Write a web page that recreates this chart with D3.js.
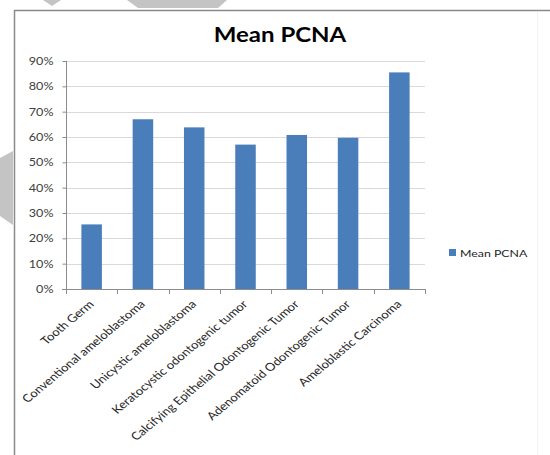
<!DOCTYPE html>
<html>
<head>
<meta charset="utf-8">
<script src="https://cdn.jsdelivr.net/npm/d3@7"></script>
<style>
  html, body { margin: 0; padding: 0; background: #fff; }
  svg { display: block; }
</style>
</head>
<body>
<svg id="chart" width="550" height="455"></svg>
<script>
// Mean PCNA labelling index per lesion type
const categories = [
  "Tooth Germ",
  "Conventional ameloblastoma",
  "Unicystic ameloblastoma",
  "Keratocystic odontogenic tumor",
  "Calcifying Epithelial Odontogenic Tumor",
  "Adenomatoid Odontogenic Tumor",
  "Ameloblastic Carcinoma"
];
const meanPCNA = [0.255, 0.67, 0.638, 0.57, 0.608, 0.597, 0.855];
const yTicks = [0, 0.1, 0.2, 0.3, 0.4, 0.5, 0.6, 0.7, 0.8, 0.9];
const seriesName = "Mean PCNA";

const svg = d3.select("#chart");
const font = "Lato, 'Open Sans', sans-serif";
const sx = 1.2; // text is drawn slightly widened

// decorative grey shapes behind the frame
const deco = [
  [[43, 0], [61, 0], [52, 6]],
  [[127, 0], [227, 0], [218, 8], [138, 8]],
  [[0, 158], [13, 151], [13, 225], [0, 216]]
];
svg.selectAll("polygon.deco").data(deco).join("polygon")
  .attr("class", "deco")
  .attr("points", d => d.map(p => p.join(",")).join(" "))
  .attr("fill", "#c4c4c4");

// chart frame
svg.append("path")
  .attr("d", "M14.5,455 V10.5 H550")
  .attr("fill", "none")
  .attr("stroke", "#8a8a8a")
  .attr("stroke-width", 1.5);
svg.append("line")
  .attr("x1", 537.5).attr("x2", 537.5).attr("y1", 12).attr("y2", 455)
  .attr("stroke", "#f2f2f2");

const plot = { left: 66, right: 425, top: 61, bottom: 289 };

const x = d3.scaleBand()
  .domain(categories)
  .range([plot.left, plot.right])
  .paddingInner(0.6)
  .paddingOuter(0.3);
const xCell = d3.scaleBand()
  .domain(categories)
  .range([plot.left, plot.right])
  .padding(0);
const y = d3.scaleLinear()
  .domain([0, 0.9])
  .range([plot.bottom, plot.top]);

// horizontal gridlines
svg.append("g")
  .selectAll("line")
  .data(yTicks.filter(t => t > 0))
  .join("line")
  .attr("x1", plot.left).attr("x2", plot.right)
  .attr("y1", d => Math.round(y(d)) + 0.5)
  .attr("y2", d => Math.round(y(d)) + 0.5)
  .attr("stroke", "#d9d9d9")
  .attr("stroke-width", 1);

// bars
svg.append("g")
  .selectAll("rect")
  .data(categories.map((c, i) => ({ c, v: meanPCNA[i] })))
  .join("rect")
  .attr("x", d => x(d.c))
  .attr("width", x.bandwidth())
  .attr("y", d => y(d.v))
  .attr("height", d => y(0) - y(d.v))
  .attr("fill", "#4a7ebb");

// y axis
const yAxis = svg.append("g")
  .attr("transform", `translate(${plot.left + 0.5},0)`)
  .call(d3.axisLeft(y).tickValues(yTicks).tickFormat(d3.format(".0%")).tickSize(4).tickPadding(0));
yAxis.select(".domain").attr("stroke", "#8c8c8c").attr("d", `M0,${y(0.9)}V${y(0)}`);
yAxis.selectAll(".tick line").attr("stroke", "#8c8c8c");
yAxis.selectAll(".tick text")
  .attr("x", 0)
  .attr("transform", `translate(-13,0) scale(${sx},1)`)
  .attr("font-family", font)
  .attr("font-size", 10.5)
  .attr("fill", "#404040");

// x axis baseline and category boundary ticks
const xAxisG = svg.append("g");
xAxisG.append("line")
  .attr("x1", plot.left - 4).attr("x2", plot.right)
  .attr("y1", plot.bottom + 0.5).attr("y2", plot.bottom + 0.5)
  .attr("stroke", "#8c8c8c");
const bounds = categories.map(c => xCell(c)).concat([xCell(categories[categories.length - 1]) + xCell.bandwidth()]);
xAxisG.selectAll("line.tk").data(bounds).join("line")
  .attr("class", "tk")
  .attr("x1", d => Math.round(d) + 0.5).attr("x2", d => Math.round(d) + 0.5)
  .attr("y1", plot.bottom).attr("y2", plot.bottom + 5)
  .attr("stroke", "#8c8c8c");

// rotated category labels
xAxisG.selectAll("text.cat").data(categories).join("text")
  .attr("class", "cat")
  .attr("transform", d => `translate(${x(d) + x.bandwidth() / 2 + 3},${plot.bottom + 16}) scale(${sx},1) rotate(-45)`)
  .attr("text-anchor", "end")
  .attr("font-family", font)
  .attr("font-size", 11)
  .attr("fill", "#262626")
  .text(d => d);

// title
svg.append("text")
  .attr("transform", `translate(280,42) scale(${sx},1)`)
  .attr("text-anchor", "middle")
  .attr("font-family", font)
  .attr("font-weight", "bold")
  .attr("font-size", 20)
  .attr("fill", "#000")
  .text(seriesName);

// legend
const lg = svg.append("g").attr("transform", "translate(449,249)");
lg.append("rect").attr("width", 7).attr("height", 7).attr("fill", "#4a7ebb");
lg.append("text")
  .attr("transform", `translate(11,7.5) scale(${sx},1)`)
  .attr("font-family", font)
  .attr("font-size", 10.3)
  .attr("fill", "#262626")
  .text(seriesName);
</script>
</body>
</html>
